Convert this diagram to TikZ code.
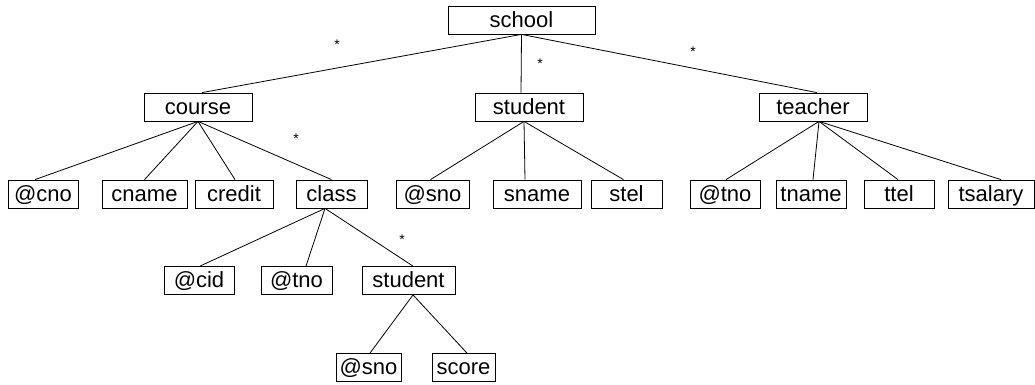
\documentclass[tikz,border=0pt]{standalone}
\usepackage{fontspec}
\setmainfont{Liberation Sans}
\begin{document}
\begin{tikzpicture}[x=1pt,y=-1pt,
  elem/.style={draw, line width=0.8pt, inner sep=0pt, minimum height=28pt,
    text height=15.5pt, text depth=1pt, font=\fontsize{22}{26}\selectfont},
  edge/.style={line width=0.8pt},
  mult/.style={inner sep=0pt, font=\fontsize{14}{15}\selectfont}]
\useasboundingbox (0,0) rectangle (1035,384);

% root and first level
\node[elem, minimum width=147pt] (school)  at (521.5,20) {school};
\node[elem, minimum width=108pt] (course)  at (198,107) {course};
\node[elem, minimum width=108pt] (student) at (529,107) {student};
\node[elem, minimum width=108pt] (teacher) at (813,107) {teacher};

% second level
\node[elem, minimum width=70pt] (cno)     at (43,194)    {@cno};
\node[elem, minimum width=85pt] (cname)   at (144.5,194) {cname};
\node[elem, minimum width=78pt] (credit)  at (234,194)   {credit};
\node[elem, minimum width=71pt] (class)   at (331.5,194) {class};
\node[elem, minimum width=73pt] (sno)     at (432.5,194) {@sno};
\node[elem, minimum width=88pt] (sname)   at (537,194)   {sname};
\node[elem, minimum width=71pt] (stel)    at (626.5,194) {stel};
\node[elem, minimum width=70pt] (tno)     at (725,194)   {@tno};
\node[elem, minimum width=70pt] (tname)   at (811,194)   {tname};
\node[elem, minimum width=70pt] (ttel)    at (899,194)   {ttel};
\node[elem, minimum width=86pt] (tsalary) at (991,194)   {tsalary};

% children of class
\node[elem, minimum width=70pt] (cid)      at (199,280.5)   {@cid};
\node[elem, minimum width=71pt] (ctno)     at (296.5,280.5) {@tno};
\node[elem, minimum width=93pt] (cstudent) at (408.5,280.5) {student};

% children of class/student
\node[elem, minimum width=65pt] (csno)   at (368.5,367.5) {@sno};
\node[elem, minimum width=63pt] (cscore) at (463.5,367.5) {score};

% connectors
\draw[edge] (school.south) -- ([xshift=4pt]course.north);
\draw[edge] (school.south) -- ([xshift=-8pt]student.north);
\draw[edge] (school.south) -- ([xshift=4pt]teacher.north);

\draw[edge] (course.south) -- ([xshift=-8pt]cno.north);
\draw[edge] (course.south) -- (cname.north);
\draw[edge] (course.south) -- ([xshift=1pt]credit.north);
\draw[edge] (course.south) -- (class.north);

\draw[edge] ([xshift=-5pt]student.south) -- ([xshift=-2pt]sno.north);
\draw[edge] ([xshift=-5pt]student.south) -- ([xshift=-12pt]sname.north);
\draw[edge] ([xshift=-5pt]student.south) -- ([xshift=-3pt]stel.north);

\draw[edge] ([xshift=6pt]teacher.south) -- ([xshift=1pt]tno.north);
\draw[edge] ([xshift=6pt]teacher.south) -- ([xshift=2pt]tname.north);
\draw[edge] ([xshift=6pt]teacher.south) -- ([xshift=-1pt]ttel.north);
\draw[edge] ([xshift=6pt]teacher.south) -- ([xshift=10pt]tsalary.north);

\draw[edge] ([xshift=-6.5pt]class.south) -- ([xshift=1pt]cid.north);
\draw[edge] ([xshift=-6.5pt]class.south) -- ([xshift=9.5pt]ctno.north);
\draw[edge] ([xshift=-6.5pt]class.south) -- ([xshift=4.5pt]cstudent.north);

\draw[edge] ([xshift=4.5pt]cstudent.south) -- ([xshift=1.5pt]csno.north);
\draw[edge] ([xshift=4.5pt]cstudent.south) -- ([xshift=3.5pt]cscore.north);

% multiplicity marks
\node[mult] (m1) at (337,45)  {*};
\node[mult] (m2) at (540,64)  {*};
\node[mult] (m3) at (693,52)  {*};
\node[mult] (m4) at (296,139) {*};
\node[mult] (m5) at (402,240) {*};
\end{tikzpicture}
\end{document}
